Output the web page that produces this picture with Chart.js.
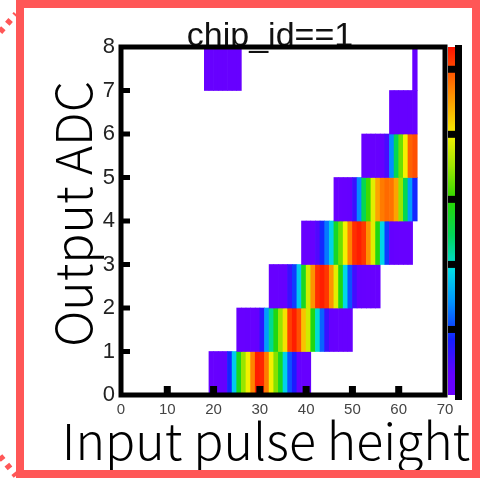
<!DOCTYPE html>
<html>
<head>
<meta charset="utf-8">
<script src="https://cdn.jsdelivr.net/npm/chart.js@4.4.1/dist/chart.umd.min.js"></script>
<style>
  html, body { margin: 0; padding: 0; background: #fff; }
  canvas { display: block; }
</style>
</head>
<body>
<canvas id="chart" width="492" height="482"></canvas>
<script>
// each filled run of cells: its adc row (y bin) and the first input pulse bin
var runAdc = [0, 1, 2, 3, 4, 5, 6, 7, 7];
var runFirst = [19, 25, 32, 39, 46, 52, 58, 18, 63];

// entries per 1-wide input pulse bin
var adc0 = [3, 3, 4, 5, 18, 36, 57, 70, 80, 94, 106, 105, 95, 80, 68, 56, 37, 22, 16, 5, 3, 3];
var adc1 = [3, 3, 4, 4, 6, 14, 30, 45, 58, 70, 82, 102, 106, 100, 86, 76, 58, 40, 24, 12, 5, 4, 3, 3, 3];
var adc2 = [3, 3, 4, 5, 12, 20, 36, 56, 76, 92, 104, 106, 103, 92, 78, 58, 38, 22, 11, 5, 4, 3, 3, 3];
var adc3 = [3, 3, 4, 9, 18, 26, 37, 55, 66, 80, 94, 104, 106, 103, 92, 78, 58, 38, 20, 6, 4, 3, 3, 3];
var adc4 = [3, 3, 4, 5, 12, 28, 50, 62, 78, 90, 95, 97, 96, 90, 70, 50, 30, 18];
var adc5 = [3, 3, 4, 4, 5, 10, 28, 50, 66, 80, 98, 100];
var adc6 = [4, 4, 4, 4, 4, 4];
var adc7a = [3, 3, 3, 3, 3, 3, 3, 3];
var adc7b = [3];
var runCounts = [adc0, adc1, adc2, adc3, adc4, adc5, adc6, adc7a, adc7b];

// axis tick labels and the colour (z) axis
var xTicks = [0, 10, 20, 30, 40, 50, 60, 70];
var yTicks = [0, 1, 2, 3, 4, 5, 6, 7, 8];
var zMax = 107;
var zTicks = [20, 40, 60, 80, 100];

// rainbow palette, purple (low) -> red (high)
var paletteStops = [
  [0.00, [106, 0, 255]],
  [0.06, [100, 0, 255]],
  [0.16, [20, 30, 255]],
  [0.27, [0, 150, 255]],
  [0.36, [0, 220, 230]],
  [0.46, [0, 215, 90]],
  [0.56, [40, 215, 0]],
  [0.66, [160, 230, 0]],
  [0.75, [245, 240, 0]],
  [0.88, [255, 130, 0]],
  [1.00, [255, 20, 0]]
];

function heatColor(t) {
  if (t < 0) t = 0;
  if (t > 1) t = 1;
  for (var i = 1; i < paletteStops.length; i++) {
    var a = paletteStops[i - 1], b = paletteStops[i];
    if (t <= b[0]) {
      var f = (t - a[0]) / (b[0] - a[0]);
      var c = [];
      for (var k = 0; k < 3; k++) c.push(Math.round(a[1][k] + (b[1][k] - a[1][k]) * f));
      return 'rgb(' + c.join(',') + ')';
    }
  }
  return 'rgb(255,20,0)';
}

// one floating bar per filled cell
var cells = [];
for (var r = 0; r < runAdc.length; r++) {
  for (var i = 0; i < runCounts[r].length; i++) {
    if (runCounts[r][i] > 0) {
      cells.push({ x: runFirst[r] + i + 0.5, y: [runAdc[r], runAdc[r] + 1], z: runCounts[r][i] });
    }
  }
}

var rootStyle = {
  id: 'rootStyle',
  beforeDatasetsDraw: function(chart) {
    var ctx = chart.ctx;
    ctx.save();
    ctx.fillStyle = '#111';
    ctx.font = '34px "Liberation Sans", Arial, sans-serif';
    ctx.textAlign = 'center';
    ctx.textBaseline = 'alphabetic';
    ctx.fillText('chip_id==1', 270, 46);
    ctx.restore();
  },
  afterDatasetsDraw: function(chart) {
    var ctx = chart.ctx;
    var a = chart.chartArea;
    var xs = chart.scales.x, ys = chart.scales.y;
    ctx.save();

    // palette strip on the right
    var h = a.bottom - a.top;
    for (var py = 0; py < h; py++) {
      ctx.fillStyle = heatColor(1 - py / h);
      ctx.fillRect(a.right + 3, a.top + py, 7, 1);
    }
    ctx.fillStyle = '#000';
    for (var j = 0; j < zTicks.length; j++) {
      var zy = a.bottom - zTicks[j] / zMax * h;
      ctx.fillRect(a.right + 3, zy - 4, 7, 7);
    }
    ctx.fillRect(a.right + 10, a.top - 2, 7, h + 7);

    // frame
    ctx.strokeStyle = '#000';
    ctx.lineWidth = 5;
    ctx.strokeRect(a.left, a.top, a.right - a.left, a.bottom - a.top);

    // inward tick marks
    ctx.lineWidth = 5;
    ctx.beginPath();
    for (var k = 1; k < yTicks.length - 1; k++) {
      var ty = ys.getPixelForValue(yTicks[k]);
      ctx.moveTo(a.left, ty);
      ctx.lineTo(a.left + 9, ty);
    }
    ctx.stroke();
    ctx.lineWidth = 7;
    ctx.beginPath();
    for (var m = 1; m < xTicks.length - 1; m++) {
      var tx = xs.getPixelForValue(xTicks[m]);
      ctx.moveTo(tx, a.bottom);
      ctx.lineTo(tx, a.bottom - 9);
    }
    ctx.stroke();
    ctx.restore();
  },
  afterDraw: function(chart) {
    var ctx = chart.ctx;
    ctx.save();
    ctx.fillStyle = '#000';
    ctx.font = '300 50px "Noto Sans CJK JP", "Noto Sans", sans-serif';
    ctx.textAlign = 'center';
    ctx.textBaseline = 'alphabetic';
    ctx.fillText('Input pulse height', 266, 460);
    ctx.translate(92, 214);
    ctx.rotate(-Math.PI / 2);
    ctx.fillText('Output ADC', 0, 0);
    ctx.restore();

    // red slide frame
    ctx.save();
    ctx.strokeStyle = '#ff5757';
    ctx.lineWidth = 8;
    ctx.strokeRect(20, 4, 456, 470);
    ctx.lineWidth = 6;
    ctx.setLineDash([5, 6]);
    ctx.beginPath();
    ctx.moveTo(0, 32);
    ctx.lineTo(16, 14);
    ctx.moveTo(0, 456);
    ctx.lineTo(16, 476);
    ctx.stroke();
    ctx.restore();
  }
};

var ctx = document.getElementById('chart').getContext('2d');
var heatmap = new Chart(ctx, {
  type: 'bar',
  data: {
    datasets: [{
      data: cells,
      grouped: false,
      categoryPercentage: 1,
      barPercentage: 1,
      borderWidth: 0,
      backgroundColor: function(c) {
        return c.raw ? heatColor(c.raw.z / zMax) : '#fff';
      }
    }]
  },
  options: {
    responsive: false,
    animation: false,
    devicePixelRatio: 1,
    layout: { padding: { left: 0, top: 47, right: 47, bottom: 0 } },
    plugins: {
      legend: { display: false },
      tooltip: { enabled: false },
      title: { display: false }
    },
    scales: {
      x: {
        type: 'linear',
        min: 0,
        max: 70,
        offset: false,
        grid: { display: false, offset: false, drawTicks: false },
        border: { display: false },
        afterBuildTicks: function(s) { s.ticks = xTicks.map(function(v) { return { value: v }; }); },
        ticks: { padding: 6, color: '#444', maxRotation: 0, autoSkip: false,
          font: { family: '"Liberation Sans", Arial, sans-serif', size: 15 } },
        afterFit: function(s) { s.height = 87; }
      },
      y: {
        type: 'linear',
        min: 0,
        max: 8,
        grid: { display: false, drawTicks: false },
        border: { display: false },
        afterBuildTicks: function(s) { s.ticks = yTicks.map(function(v) { return { value: v }; }); },
        ticks: { padding: 6, color: '#222',
          font: { family: '"Liberation Sans", Arial, sans-serif', size: 22 } },
        afterFit: function(s) { s.width = 121; }
      }
    }
  },
  plugins: [rootStyle]
});
</script>
</body>
</html>
